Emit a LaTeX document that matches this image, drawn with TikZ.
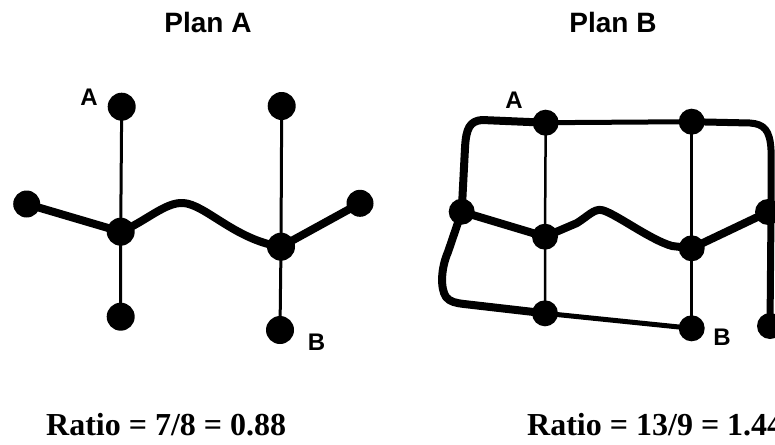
\documentclass[tikz,border=0pt]{standalone}
\usepackage{fontspec}
\setmainfont{Liberation Serif}
\newfontfamily\sansf{Liberation Sans}
\begin{document}
\begin{tikzpicture}[x=1pt,y=-1pt,
  dot/.style={circle,fill=black,inner sep=0pt,minimum size=#1},
  dot/.default=28pt,
  thinln/.style={line width=3pt},
  medln/.style={line width=5pt,line cap=round},
  thickln/.style={line width=8pt,line join=round,line cap=round},
  title/.style={font=\sansf\bfseries\fontsize{28}{30}\selectfont,anchor=base,inner sep=0pt},
  lab/.style={font=\sansf\bfseries\fontsize{24}{26}\selectfont,anchor=base,inner sep=0pt},
  ratio/.style={font=\bfseries\fontsize{32}{36}\selectfont,anchor=base west,inner sep=0pt}]
\useasboundingbox (0,0) rectangle (775,444);

% ---------- Plan A ----------
\node[title] (tA) at (208,33) {Plan A};
\node[dot] (a1) at (121.7,106.7) {};
\node[dot=27pt] (aL) at (26.7,204) {};
\node[dot] (aJ1) at (120.7,231.7) {};
\node[dot] (aB1) at (120.7,316.7) {};
\node[dot] (a2) at (281.7,106) {};
\node[dot] (aJ2) at (281,246.7) {};
\node[dot=27pt] (aR) at (360,203.3) {};
\node[dot] (aB2) at (280,330) {};
\node[lab] (lA1) at (89,105) {A};
\node[lab] (lB1) at (316.5,350) {B};

\draw[thinln] (a1.center) -- (aJ1.center) -- (aB1.center);
\draw[thinln] (a2.center) -- (aJ2.center) -- (aB2.center);
\draw[thickln] (aL.center) -- (aJ1.center)
  .. controls (145,222) and (165,202) .. (183,203)
  .. controls (205,204) and (235,240) .. (aJ2.center)
  -- (aR.center);

% ---------- Plan B ----------
\node[title] (tB) at (613,33) {Plan B};
\node[dot=26pt] (bA) at (545.7,122.7) {};
\node[dot=26pt] (bT2) at (691.7,121.7) {};
\node[dot=26pt] (bLM) at (461.7,211.7) {};
\node[dot=26pt] (bJ1) at (545,236.7) {};
\node[dot=26pt] (bJ2) at (691.7,248.3) {};
\node[dot=26pt] (bRM) at (768,212) {};
\node[dot=26pt] (bBL) at (545,313.3) {};
\node[dot=26pt] (bB) at (691.7,328.3) {};
\node[dot=26pt] (bBR) at (770,326) {};
\node[lab] (lA2) at (514,108) {A};
\node[lab] (lB2) at (722,345) {B};

\draw[line width=2.5pt] (bA.center) -- (bJ1.center) -- (bBL.center);
\draw[line width=2.5pt] (bT2.center) -- (bJ2.center) -- (bB.center);
\draw[medln] (bA.center) -- (bT2.center);
\draw[medln] (bBL.center) -- (bB.center);
\draw[thickln] (bA.center) -- (482,120)
  .. controls (470,121) and (466,128) .. (465,148)
  -- (bLM.center) -- (448,252)
  .. controls (441,268) and (440,288) .. (446,297)
  .. controls (450,302) and (456,303) .. (464,304)
  -- (bBL.center);
\draw[thickln,line width=7pt] (bT2.center) -- (750,123)
  .. controls (764,124) and (770,130) .. (771,150)
  -- (771,212) -- (bBR.center);
\draw[thickln] (bLM.center) -- (bJ1.center)
  -- (577,223) .. controls (588,216) and (594,209) .. (601,210)
  .. controls (612,211) and (650,240) .. (672,246)
  -- (bJ2.center) -- (bRM.center);

% ---------- Ratios ----------
\node[ratio] (rA) at (46,435) {Ratio = 7/8 = 0.88};
\node[ratio] (rB) at (527,435) {Ratio = 13/9 = 1.44};
\end{tikzpicture}
\end{document}
